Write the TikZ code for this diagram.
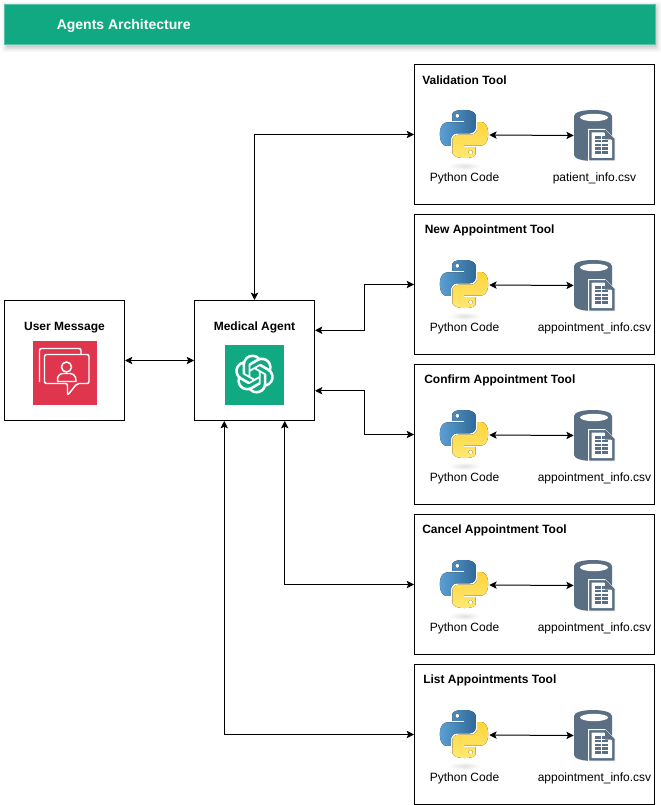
\documentclass[tikz,border=0pt]{standalone}
\usepackage{fontspec}
\setmainfont{Liberation Sans}
\usetikzlibrary{arrows.meta,calc,svg.path}
\definecolor{teal1}{HTML}{10A982}
\definecolor{red1}{HTML}{DF364E}
\definecolor{slate1}{HTML}{5A6E84}
\definecolor{pyb1}{HTML}{5A9FD4}
\definecolor{pyb2}{HTML}{306998}
\definecolor{pyy1}{HTML}{FFE873}
\definecolor{pyy2}{HTML}{FFD43B}
\tikzset{
  box/.style={draw=black,fill=white,line width=.75pt,inner sep=0pt,minimum width=#1},
  ttl/.style={font=\fontsize{9pt}{11pt}\selectfont\bfseries,inner sep=0pt},
  lbl/.style={font=\fontsize{9pt}{11pt}\selectfont,inner sep=0pt},
  conn/.style={draw=black,line width=.75pt,{Stealth[length=5.5pt,width=5.5pt,inset=1.2pt]}-{Stealth[length=5.5pt,width=5.5pt,inset=1.2pt]}},
  holder/.style={inner sep=0pt,minimum width=#1,minimum height=37.5pt},
  pyblue/.pic={
    \shade[inner color=black!12,outer color=white] (0,31) ellipse [x radius=16,y radius=4];
    \begin{scope}[shift={(-24.5,-25)},xscale=1.5,yscale=-1.5]
      \fill[even odd rule,left color=pyb1,right color=pyb2] svg {M14.25 .18l.9 .2 .73 .26 .59 .3 .45 .32 .34 .34 .25 .34 .16 .33 .1 .3 .04 .26 .02 .2 -.01 .13V8.5l-.05 .63 -.13 .55 -.21 .46 -.26 .38 -.3 .31 -.33 .25 -.35 .19 -.35 .14 -.33 .1 -.3 .07 -.26 .04 -.21 .02H8.77l-.69 .05 -.59 .14 -.5 .22 -.41 .27 -.33 .32 -.27 .35 -.2 .36 -.15 .37 -.1 .35 -.07 .32 -.04 .27 -.02 .21v3.06H3.17l-.21 -.03 -.28 -.07 -.32 -.12 -.35 -.18 -.36 -.26 -.36 -.36 -.35 -.46 -.32 -.59 -.28 -.73 -.21 -.88 -.14 -1.05 -.05 -1.23 .06 -1.22 .16 -1.04 .24 -.87 .32 -.71 .36 -.57 .4 -.44 .42 -.33 .42 -.24 .4 -.16 .36 -.1 .32 -.05 .24 -.01h.16l.06 .01h8.16v-.83H6.18l-.01 -2.75 -.02 -.37 .05 -.34 .11 -.31 .17 -.28 .25 -.26 .31 -.23 .38 -.2 .44 -.18 .51 -.15 .58 -.12 .64 -.1 .71 -.06 .77 -.04 .84 -.02 1.27 .05z M7.95 2.16l-.23 .33 -.08 .41 .08 .41 .23 .34 .33 .22 .41 .09 .41 -.09 .33 -.22 .23 -.34 .08 -.41 -.08 -.41 -.23 -.33 -.33 -.22 -.41 -.09 -.41 .09z};
      \fill[even odd rule,top color=pyy2,bottom color=pyy1] svg {M21.04 6.11l.28 .06 .32 .12 .35 .18 .36 .27 .36 .35 .35 .47 .32 .59 .28 .73 .21 .88 .14 1.04 .05 1.23 -.06 1.23 -.16 1.04 -.24 .86 -.32 .71 -.36 .57 -.4 .45 -.42 .33 -.42 .24 -.4 .16 -.36 .09 -.32 .05 -.24 .02 -.16 -.01h-8.22v.82h5.84l.01 2.76 .02 .36 -.05 .34 -.11 .31 -.17 .29 -.25 .25 -.31 .24 -.38 .2 -.44 .17 -.51 .15 -.58 .13 -.64 .09 -.71 .07 -.77 .04 -.84 .01 -1.27 -.04 -1.07 -.14 -.9 -.2 -.73 -.25 -.59 -.3 -.45 -.33 -.34 -.34 -.25 -.34 -.16 -.33 -.1 -.3 -.04 -.25 -.02 -.2 .01 -.13v-5.34l.05 -.64 .13 -.54 .21 -.46 .26 -.38 .3 -.32 .33 -.24 .35 -.2 .35 -.14 .33 -.1 .3 -.06 .26 -.04 .21 -.02 .13 -.01h5.84l.69 -.05 .59 -.14 .5 -.21 .41 -.28 .33 -.32 .27 -.35 .2 -.36 .15 -.36 .1 -.35 .07 -.32 .04 -.28 .02 -.21V6.07h2.09l.14 .01z M14.57 20.36l-.23 .33 -.08 .41 .08 .41 .23 .33 .33 .23 .41 .08 .41 -.08 .33 -.23 .23 -.33 .08 -.41 -.08 -.41 -.23 -.33 -.33 -.23 -.41 -.08 -.41 .08z};
    \end{scope}
  },
  dbfile/.pic={
    \begin{scope}[shift={(-20.5,-25.5)}]
      \fill[slate1] (0,6) .. controls (0,-2) and (38,-2) .. (38,6) -- (38,45) .. controls (38,53) and (0,53) .. (0,45) -- cycle;
      \fill[white] (20,7.5) ellipse [x radius=14,y radius=3.7];
      \fill[slate1,draw=white,line width=.75pt] (14.5,19.5) -- (31,19.5) -- (41,29.5) -- (41,51) -- (14.5,51) -- cycle;
      \fill[white] (17.5,22.5) -- (30,22.5) -- (38,30.5) -- (38,48) -- (17.5,48) -- cycle;
      \fill[slate1] (31,19.5) -- (41,29.5) -- (31,29.5) -- cycle;
      \foreach \r in {0,4,8,12,16}{
        \fill[slate1] (21,{26+\r*.95}) rectangle ++(6.2,2.6);
        \fill[slate1] (28,{26+\r*.95}) rectangle ++(6.2,2.6);
      }
    \end{scope}
  },
}
\begin{document}
\begin{tikzpicture}[x=.75pt,y=-.75pt]
\useasboundingbox[fill=white] (0,0) rectangle (660,805);
% header
\foreach \g/\o in {5/.03,3.5/.04,2/.05,.5/.07}{
  \fill[black,opacity=\o,rounded corners=1pt] (4.5+2.5-\g,4.5+2.5-\g) rectangle (655+1+\g,44.5+2.5+\g);
}
\node[draw=teal1!70!white,fill=teal1,line width=.75pt,inner sep=0pt,minimum width=488pt,minimum height=30pt] (head) at (329.75,24.5) {};
\node[ttl,anchor=west,text=white,font=\fontsize{10.5pt}{12pt}\selectfont\bfseries] (headt) at (56.5,25.5) {Agents Architecture};
% left boxes
\node[box=90pt,minimum height=90pt] (user) at (64.5,360.5) {};
\node[ttl] (usert) at (64.5,327.5) {User Message};
\node[box=90pt,minimum height=90pt] (med) at (254.5,360.5) {};
\node[ttl] (medt) at (254.5,327.5) {Medical Agent};
% red icon
\fill[red1] (32.5,340.5) rectangle (97,404.5);
\draw[white,line width=1.1pt,line join=round,rounded corners=1.5pt] (39.5,382) -- (39.5,348.5) -- (81,348.5) -- (81,354);
\draw[white,line width=1.1pt,line join=round,rounded corners=1.5pt] (44.5,354.5) -- (89,354.5) -- (89,383.5) -- (77,383.5) -- (67.5,395.5) -- (67.5,383.5) -- (44.5,383.5) -- cycle;
\draw[white,line width=1.1pt] (66.5,367) circle [radius=5];
\draw[white,line width=1.1pt,line join=round] (57.5,381.5) .. controls (56.5,375) and (61,373.5) .. (63,373.5) -- (70,373.5) .. controls (72,373.5) and (76.5,375) .. (76,381.5) -- cycle;
% openai icon
\fill[teal1] (225,345) rectangle (284,404.5);
\begin{scope}[shift={(235,354.5)},xscale=1.22,yscale=-1.22]
\fill[white] svg {M22.2819 9.8211a5.9847 5.9847 0 0 0 -.5157 -4.9108 6.0462 6.0462 0 0 0 -6.5098 -2.9A6.0651 6.0651 0 0 0 4.9807 4.1818a5.9847 5.9847 0 0 0 -3.9977 2.9 6.0462 6.0462 0 0 0 .7427 7.0966 5.98 5.98 0 0 0 .511 4.9107 6.051 6.051 0 0 0 6.5146 2.9001A5.9847 5.9847 0 0 0 13.2599 24a6.0557 6.0557 0 0 0 5.7718 -4.2058 5.9894 5.9894 0 0 0 3.9977 -2.9001 6.0557 6.0557 0 0 0 -.7475 -7.0729z M13.2599 22.4292a4.4755 4.4755 0 0 1 -2.8764 -1.0408l.1419 -.0804 4.7783 -2.7582a.7948 .7948 0 0 0 .3927 -.6813v-6.7369l2.02 1.1686a.071 .071 0 0 1 .038 .052v5.5826a4.504 4.504 0 0 1 -4.4945 4.4944z M3.5992 18.3038a4.4708 4.4708 0 0 1 -.5346 -3.0137l.142 .0852 4.783 2.7582a.7712 .7712 0 0 0 .7806 0l5.8428 -3.3685v2.3324a.0804 .0804 0 0 1 -.0332 .0615L9.74 19.9502a4.4992 4.4992 0 0 1 -6.1408 -1.6464z M2.3408 7.8956a4.485 4.485 0 0 1 2.3655 -1.9728V11.6a.7664 .7664 0 0 0 .3879 .6765l5.8144 3.3543 -2.0201 1.1685a.0757 .0757 0 0 1 -.071 0l-4.8303 -2.7865A4.504 4.504 0 0 1 2.3408 7.872z M18.9371 11.7514L13.1038 8.364 15.1192 7.2a.0757 .0757 0 0 1 .071 0l4.8303 2.7913a4.4944 4.4944 0 0 1 -.6765 8.1042v-5.6772a.79 .79 0 0 0 -.407 -.667z M20.9478 8.7283l-.142 -.0852 -4.7735 -2.7818a.7759 .7759 0 0 0 -.7854 0L9.409 9.2297V6.8974a.0662 .0662 0 0 1 .0284 -.0615l4.8303 -2.7866a4.4992 4.4992 0 0 1 6.6802 4.66z M8.3065 12.863l-2.02 -1.1638a.0804 .0804 0 0 1 -.038 -.0567V6.0742a4.4992 4.4992 0 0 1 7.3757 -3.4537l-.142 .0805L8.704 5.459a.7948 .7948 0 0 0 -.3927 .6813z M9.4041 10.4976l2.602 -1.4998 2.6069 1.4998v2.9994l-2.5974 1.4997 -2.6067 -1.4997z};
\end{scope}
% tools
\foreach \n/\off/\tx/\ttlx/\fil in {
  val/0/Validation Tool/422/patient\_info.csv,
  new/150/New Appointment Tool/424.5/appointment\_info.csv,
  con/300/Confirm Appointment Tool/424/appointment\_info.csv,
  can/450/Cancel Appointment Tool/422/appointment\_info.csv,
  lst/600/List Appointments Tool/423/appointment\_info.csv}{
  \node[box=180pt,minimum height=105pt] (\n) at (534.5,134.5+\off) {};
  \node[ttl,anchor=west] (\n t) at (\ttlx,80.5+\off) {\tx};
  \node[holder=36.75pt] (\n py) at (464.5,135+\off) {};
  \pic at (\n py.center) {pyblue};
  \node[holder=30.75pt] (\n db) at (594.5,135.5+\off) {};
  \pic at (\n db.center) {dbfile};
  \draw[conn] (\n py.east) -- (\n db.west);
  \node[lbl] (\n pl) at (464.5,178.5+\off) {Python Code};
  \node[lbl] (\n dl) at (594.5,178.5+\off) {\fil};
}
% connectors
\draw[conn] (user.east) -- (med.west);
\draw[conn] (med.north) |- (val.west);
\draw[conn] ($(med.north east)!.25!(med.south east)$) -- ++(49.5,0) |- (new.west);
\draw[conn] ($(med.north east)!.75!(med.south east)$) -- ++(49.5,0) |- (con.west);
\draw[conn] ($(med.south west)!.75!(med.south east)$) |- (can.west);
\draw[conn] ($(med.south west)!.25!(med.south east)$) |- (lst.west);
\end{tikzpicture}
\end{document}
